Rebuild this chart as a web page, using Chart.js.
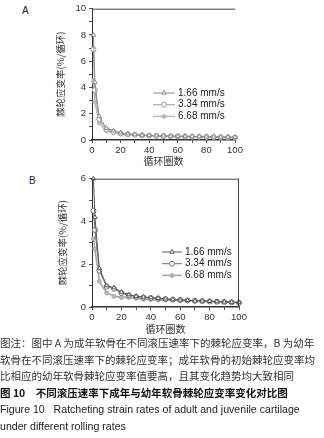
<!DOCTYPE html>
<html><head><meta charset="utf-8">
<script src="https://cdn.jsdelivr.net/npm/chart.js@4.4.1/dist/chart.umd.min.js"></script>
<style>
html,body{margin:0;padding:0;background:#fff;width:324px;height:438px;overflow:hidden;}
#wrapA{position:absolute;left:0;top:0;width:324px;height:170px;}
#wrapB{position:absolute;left:0;top:170px;width:324px;height:170px;}
.lbl{position:absolute;font-family:"Liberation Sans",Arial,sans-serif;font-size:10px;color:#222;}
#cap{position:absolute;left:0;top:335px;width:324px;font-family:"Noto Sans CJK SC",sans-serif;font-size:10.5px;line-height:16.6px;color:#333;white-space:nowrap;}
#cap .b{color:#111;font-weight:bold;}
#cap .en{font-family:"Liberation Sans",Arial,sans-serif;font-size:10.6px;color:#222;}
</style></head><body>
<div class="lbl" style="left:22px;top:5px;">A</div>
<div class="lbl" style="left:29px;top:175px;">B</div>
<div id="wrapA"><canvas id="cA"></canvas></div>
<div id="wrapB"><canvas id="cB"></canvas></div>
<div id="cap">图注：图中 A 为成年软骨在不同滚压速率下的棘轮应变率，B 为幼年<br>软骨在不同滚压速率下的棘轮应变率；成年软骨的初始棘轮应变率均<br>比相应的幼年软骨棘轮应变率值要高，且其变化趋势均大致相同<br><span class="b">图 10　不同滚压速率下成年与幼年软骨棘轮应变率变化对比图</span><br><span class="en">Figure 10&nbsp;&nbsp; Ratcheting strain rates of adult and juvenile cartilage</span><br><span class="en">under different rolling rates</span></div>
<script>
const cycles = [1,2,5,10,15,20,25,30,35,40,45,50,55,60,65,70,75,80,85,90,95,100];
const seriesLabels = ["1.66 mm/s","3.34 mm/s","6.68 mm/s"];
// Panel A (adult)
const a166 = [8.0,4.4,1.8,0.9,0.7,0.55,0.47,0.42,0.38,0.35,0.33,0.31,0.30,0.29,0.28,0.27,0.26,0.25,0.24,0.23,0.22,0.21];
const a334 = [6.9,3.8,1.6,0.8,0.62,0.5,0.44,0.4,0.36,0.34,0.32,0.3,0.29,0.28,0.27,0.26,0.25,0.24,0.23,0.22,0.21,0.2];
const a668 = [4.5,2.9,1.3,0.7,0.55,0.46,0.41,0.37,0.34,0.32,0.3,0.29,0.28,0.27,0.26,0.25,0.24,0.23,0.22,0.21,0.2,0.19];
// Panel B (juvenile)
const b166 = [6.0,4.2,1.8,1.0,0.9,0.7,0.58,0.5,0.47,0.44,0.41,0.38,0.35,0.33,0.31,0.29,0.28,0.27,0.25,0.24,0.23,0.21];
const b334 = [4.5,3.6,1.7,0.95,0.85,0.65,0.55,0.48,0.45,0.42,0.4,0.37,0.35,0.33,0.31,0.29,0.28,0.26,0.25,0.24,0.22,0.2];
const b668 = [3.2,2.7,1.2,0.65,0.5,0.45,0.45,0.4,0.36,0.34,0.33,0.33,0.32,0.31,0.3,0.28,0.27,0.26,0.25,0.24,0.22,0.2];
const yTitle = "棘轮应变率(%/循环)";
const xTitle = "循环圈数";

const pts = arr => cycles.map((c,i)=>({x:c,y:arr[i]}));

const frame = {
  id:'frame',
  afterDraw(chart, args, opts){
    const {ctx, chartArea:a} = chart;
    ctx.save();
    ctx.strokeStyle = '#444'; ctx.lineWidth = 1;
    ctx.beginPath();
    ctx.moveTo(a.left, a.top+0.5); ctx.lineTo(a.right, a.top+0.5);
    if (opts.right){ ctx.moveTo(a.right-0.5, a.top); ctx.lineTo(a.right-0.5, a.bottom); }
    ctx.stroke();
    ctx.restore();
  }
};
const legendPlug = {
  id:'legendPlug',
  afterDraw(chart, args, o){
    const ctx = chart.ctx;
    ctx.save();
    chart.data.datasets.forEach((ds,i)=>{
      const y = o.y + i*o.dy;
      ctx.strokeStyle = ds.borderColor; ctx.lineWidth = ds.borderWidth;
      ctx.beginPath(); ctx.moveTo(o.x, y); ctx.lineTo(o.x+o.len, y); ctx.stroke();
      ctx.fillStyle = ds.pointBackgroundColor; ctx.strokeStyle = ds.pointBorderColor; ctx.lineWidth = 1;
      Chart.helpers.drawPoint(ctx, {pointStyle: ds.pointStyle, radius: ds.pointRadius, borderWidth:1}, o.x+o.len/2, y);
      ctx.fillStyle = '#222'; ctx.font = '10px "Liberation Sans", Arial, sans-serif';
      ctx.textBaseline = 'middle'; ctx.textAlign = 'left';
      ctx.fillText(ds.label, o.x+o.len+3, y);
    });
    ctx.restore();
  }
};

function makeChart(id, data, cols, yMax, pad, yTitlePad, xTitlePad, legend, rightBorder){
  const styles = ['triangle','circle','circle'];
  const radii = [2.5,2.5,2];
  const fills = ['#fff','#fff','#bbb'];
  return new Chart(document.getElementById(id), {
    type:'line',
    data:{datasets: data.map((arr,i)=>({
      label: seriesLabels[i], data: pts(arr),
      borderColor: cols[i], borderWidth: i===2?1.6:1,
      pointStyle: styles[i], pointRadius: radii[i], pointBorderWidth:1,
      pointBackgroundColor: fills[i], pointBorderColor: cols[i],
      tension:0, clip:false
    }))},
    options:{
      responsive:true, maintainAspectRatio:false, animation:false,
      layout:{padding:pad},
      plugins:{legend:{display:false}, tooltip:{enabled:false}, frame:{right:rightBorder}, legendPlug:legend},
      scales:{
        x:{type:'linear', min:0, max:100,
          afterFit: s=>{ s.height = xTitlePad.h; },
          ticks:{stepSize:10, autoSkip:false, maxRotation:0, padding:2, color:'#333',
            font:{family:'"Liberation Sans", Arial, sans-serif', size:9.5},
            callback:v=> v%20===0 ? v : ''},
          grid:{drawOnChartArea:false, drawTicks:true, tickLength:3, color:'#555'},
          border:{display:true, color:'#333', width:1.5},
          title:{display:true, text:xTitle, color:'#333', padding:{top:xTitlePad.p,bottom:xTitlePad.p},
            font:{family:'"Noto Sans CJK SC", sans-serif', size:10, lineHeight:1.2}}
        },
        y:{min:0, max:yMax,
          afterFit: s=>{ s.width = 92; },
          ticks:{stepSize:1, autoSkip:false, padding:3, color:'#333',
            font:{family:'"Liberation Sans", Arial, sans-serif', size:9.5},
            callback:v=> v%2===0 ? v : ''},
          grid:{drawOnChartArea:false, drawTicks:true, tickLength:3, color:'#555'},
          border:{display:true, color:'#333', width:1},
          title:{display:true, text:yTitle, color:'#333', padding:{top:yTitlePad,bottom:0},
            font:{family:'"Noto Sans CJK SC", sans-serif', size:9.5, lineHeight:1.2}}
        }
      }
    },
    plugins:[frame, legendPlug]
  });
}

makeChart('cA', [a166,a334,a668], ['#8a8a8a','#9a9a9a','#bdbdbd'], 10,
  {left:0, right:89, top:8, bottom:0}, 55, {h:30, p:3},
  {x:153, y:93, dy:11.7, len:22}, false);
makeChart('cB', [b166,b334,b668], ['#555','#6e6e6e','#a8a8a8'], 6,
  {left:0, right:85, top:5, bottom:0}, 57, {h:33, p:5},
  {x:162, y:82, dy:11.7, len:20}, true);
</script>
</body></html>
